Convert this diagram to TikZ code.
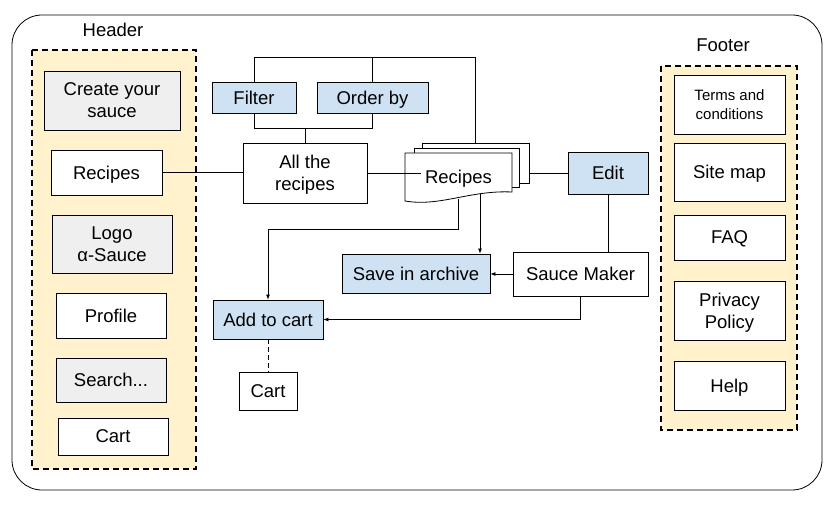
\documentclass[tikz,border=0pt]{standalone}
\usepackage{fontspec}
\setmainfont{Liberation Sans}
\usetikzlibrary{arrows.meta}

\definecolor{boxblue}{HTML}{CFE2F3}
\definecolor{boxgrey}{HTML}{EFEFEF}
\definecolor{panel}{HTML}{FFF2CC}

\tikzset{
    box/.style={draw, line width=0.8pt, inner sep=0pt, align=center, fill=white,
        text depth=0pt, font=\fontsize{18.5}{22}\selectfont},
    bluebox/.style={box, fill=boxblue},
    greybox/.style={box, fill=boxgrey},
    wh/.style 2 args={minimum width=#1, minimum height=#2},
    panelbox/.style={draw, fill=panel, line width=1.6pt, dash pattern=on 6pt off 4pt},
    title/.style={font=\fontsize{18.5}{22}\selectfont},
}

\begin{document}
\begin{tikzpicture}[x=1pt, y=-1pt, line width=0.8pt, >={Latex[length=5pt, width=4pt]}]

    \useasboundingbox (0, 0) rectangle (831, 508);

    % Coordinates for the connector bends.
    \coordinate (topline) at (300, 57);
    \coordinate (midline) at (300, 128);
    \coordinate (bend)    at (400, 229);

    % Outer frame of the page.
    \draw[rounded corners=30pt] (12, 15) rectangle (822, 490);

    % Header panel.
    \node[title] (header) at (113, 30) {Header};
    \draw[panelbox] (32, 50) rectangle (196, 469);
    \node[greybox, wh={136pt}{59pt}] (create)   at (112, 100.5) {Create your\\sauce};
    \node[box,     wh={111pt}{45pt}] (hrecipes) at (106.5, 172.5) {Recipes};
    \node[greybox, wh={120pt}{58pt}] (logo)     at (112, 244)   {Logo\\α-Sauce};
    \node[box,     wh={110pt}{45pt}] (profile)  at (111, 315.5) {Profile};
    \node[greybox, wh={110pt}{44pt}] (search)   at (111, 380)   {Search...};
    \node[box,     wh={110pt}{37pt}] (hcart)    at (113, 436.5) {Cart};

    % Footer panel.
    \node[title] (footer) at (723, 45) {Footer};
    \draw[panelbox] (661, 66) rectangle (797, 430);
    \node[box, wh={111pt}{59pt}, font=\fontsize{15}{19}\selectfont] (terms) at (729.5, 104.5) {Terms and\\conditions};
    \node[box, wh={111pt}{58pt}] (sitemap) at (729.5, 172)   {Site map};
    \node[box, wh={111pt}{45pt}] (faq)     at (729.5, 237.5) {FAQ};
    \node[box, wh={111pt}{59pt}] (privacy) at (729.5, 310.5) {Privacy\\Policy};
    \node[box, wh={111pt}{49pt}] (help)    at (729.5, 385.5) {Help};

    % Recipe browsing.
    \node[bluebox, wh={84pt}{31pt}]  (filter) at (254, 97.5)   {Filter};
    \node[bluebox, wh={111pt}{31pt}] (order)  at (372.5, 97.5) {Order by};
    \node[box,     wh={124pt}{60pt}] (allrec) at (305, 173)    {All the\\recipes};

    % Stack of recipe pages.
    \node[box, wh={107pt}{40pt}] (docbk)  at (475.5, 163)   {};
    \node[box, wh={105pt}{39pt}] (docmid) at (466.5, 167.5) {};
    \draw[fill=white] (405, 153) -- (512, 153) -- (512, 192)
        .. controls (470, 190) and (440, 207) .. (405, 201) -- cycle;
    \node[title, text depth=0pt] (docs) at (458.5, 177) {Recipes};
    \coordinate (docoutA) at (458, 199);
    \coordinate (docoutB) at (480, 194);

    % Actions.
    \node[bluebox, wh={80pt}{42pt}]  (edit)    at (608, 173)     {Edit};
    \node[box,     wh={135pt}{44pt}] (maker)   at (580.5, 274)   {Sauce Maker};
    \node[bluebox, wh={148pt}{39pt}] (save)    at (416, 273.5)   {Save in archive};
    \node[bluebox, wh={110pt}{39pt}] (addcart) at (268, 319.5)   {Add to cart};
    \node[box,     wh={58pt}{38pt}]  (cart)    at (268, 391)     {Cart};

    % Connectors.
    \draw (hrecipes.east) -- (hrecipes.east -| allrec.west);
    \draw (allrec.east) -- (allrec.east -| docs.west);
    \draw (filter.north) -- (filter.north |- topline) -- (topline -| docbk.north) -- (docbk.north);
    \draw (order.north) -- (order.north |- topline);
    \draw (filter.south) -- (filter.south |- midline) -- (order.south |- midline) -- (order.south);
    \draw (allrec.north) -- (allrec.north |- midline);
    \draw (docbk.east |- edit.west) -- (edit.west);
    \draw (edit.south) -- (edit.south |- maker.north);
    \draw[->] (maker.west) -- (maker.west -| save.east);
    \draw[->] (docoutB) -- (docoutB |- save.north);
    \draw[->] (docoutA) |- (addcart.north |- bend) -- (addcart.north);
    \draw[->] (maker.south) |- (addcart.east);
    \draw[dash pattern=on 5pt off 3pt] (addcart.south) -- (cart.north);
\end{tikzpicture}
\end{document}
